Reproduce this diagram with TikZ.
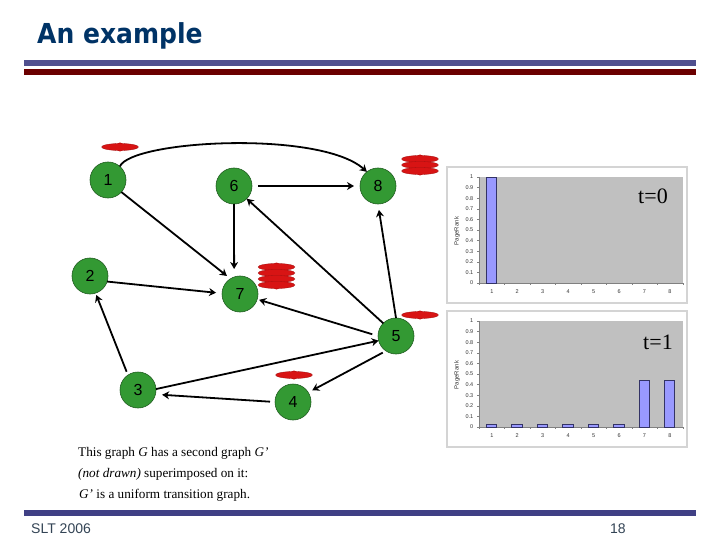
\documentclass[tikz,border=0pt]{standalone}
\usepackage{fontspec}
\setmainfont{Liberation Serif}
\setsansfont{Liberation Sans}
\newfontfamily\titlefont{DejaVu Sans}
\usetikzlibrary{arrows.meta,shapes.geometric}
\definecolor{gfill}{HTML}{339933}
\definecolor{gline}{HTML}{1F5C1F}
\definecolor{hblue}{HTML}{50508F}
\definecolor{fblue}{HTML}{404085}
\definecolor{hred}{HTML}{6B0000}
\definecolor{ttl}{HTML}{003366}
\definecolor{foot}{HTML}{334455}
\definecolor{disc}{HTML}{D81414}
\definecolor{discl}{HTML}{A01010}
\definecolor{plotbg}{HTML}{C0C0C0}
\definecolor{barf}{HTML}{9999FF}
\definecolor{barl}{HTML}{333366}
\definecolor{frameg}{HTML}{D4D4D4}
\tikzset{
  gnode/.style={circle,draw=gline,fill=gfill,line width=0.6pt,inner sep=0pt,outer sep=0pt,minimum size=36pt,font=\sffamily\fontsize{16}{16}\selectfont},
  edge/.style={draw=black,line width=1.8pt,-{Stealth[length=7pt,width=8pt]}},
  rdisc/.style={ellipse,draw=discl,fill=disc,line width=0.3pt,inner sep=0pt,outer sep=0pt,minimum width=37pt,minimum height=7pt},
  rtab/.style={ellipse,fill=disc,inner sep=0pt,outer sep=0pt,minimum width=9pt,minimum height=9pt},
  ticklabel/.style={font=\sffamily\fontsize{5.5}{6}\selectfont,text=black!80,inner sep=0pt},
  valbar/.style={draw=barl,fill=barf,line width=0.7pt},
  tlabel/.style={font=\fontsize{22}{22}\selectfont,inner sep=0pt},
  captext/.style={font=\fontsize{13.2}{14}\selectfont,anchor=base west,inner sep=0pt},
  foottext/.style={font=\sffamily\fontsize{14}{14}\selectfont,text=foot,inner sep=0pt,anchor=base west},
}
\newcommand{\redstack}[3]{%
  \foreach \yy [count=\k] in {#3}{
    \node[rtab] (#1t\k) at (#2,\yy) {};
    \node[rdisc] (#1d\k) at (#2,\yy) {};
  }%
}
\begin{document}
\begin{tikzpicture}[x=1pt,y=-1pt]
\useasboundingbox (0,0) rectangle (720,540);
\fill[white] (0,0) rectangle (720,540);
% header and footer
\node[anchor=base west,inner sep=0pt,text=ttl,xscale=0.91,font=\titlefont\bfseries\fontsize{27.5}{27.5}\selectfont] (title) at (37,44) {An example};
\fill[hblue] (24,60) rectangle (696,66);
\fill[hred] (24,69) rectangle (696,75);
\fill[fblue] (24,510) rectangle (696,516);
\node[foottext] (slt) at (31,533) {SLT 2006};
\node[foottext] (pg) at (610,533) {18};
% charts
\foreach \top/\nm in {0/a,144/b}{
  \begin{scope}[shift={(0,\top)}]
    \draw[frameg,line width=1.2pt,fill=white] (447,167) rectangle (687,303);
    \fill[plotbg] (479,177) rectangle (683,283);
    \draw[black!50,line width=0.6pt] (479,177) -- (479,283) -- (683,283);
    \foreach \v [count=\i from 0] in {1,0.9,0.8,0.7,0.6,0.5,0.4,0.3,0.2,0.1,0}{
      \node[ticklabel,anchor=east] (\nm y\i) at (473.5,177+10.6*\i) {\v};
      \draw[black!50,line width=0.4pt] (477,177+10.6*\i) -- (479,177+10.6*\i);
    }
    \foreach \c [count=\i from 0] in {1,2,3,4,5,6,7,8}{
      \node[ticklabel] (\nm x\c) at (491.8+25.45*\i,292) {\c};
      \draw[black!50,line width=0.4pt] (479+25.5*\i,283) -- (479+25.5*\i,285);
    }
    \draw[black!50,line width=0.4pt] (683,283) -- (683,285);
    \node[ticklabel,rotate=90,font=\sffamily\fontsize{6}{6}\selectfont] (\nm r) at (457,231) {PageRank};
  \end{scope}
}
\draw[valbar] (486.3,177) rectangle (496.7,283);
\foreach \i in {0,...,5}{
  \draw[valbar] (486.3+25.45*\i,424.5) rectangle (496.7+25.45*\i,427);
}
\draw[valbar] (639.2,380) rectangle (649.6,427);
\draw[valbar] (664.4,380) rectangle (674.8,427);
\node[tlabel,anchor=base] (t0) at (653,204) {t=0};
\node[tlabel,anchor=base] (t1) at (658,349) {t=1};
% graph nodes
\node[gnode] (n1) at (108,180) {1};
\node[gnode] (n2) at (90,276) {2};
\node[gnode] (n3) at (138,390) {3};
\node[gnode] (n4) at (293,402) {4};
\node[gnode] (n5) at (396,336) {5};
\node[gnode] (n6) at (234,186) {6};
\node[gnode] (n7) at (240,294) {7};
\node[gnode] (n8) at (378,186) {8};
% red stacks
\redstack{r1}{120}{147}
\redstack{r8}{420}{159,165,171}
\redstack{r7}{276.5}{267,273,279,285}
\redstack{r5}{420}{315}
\redstack{r4}{294}{375}
% edges
\draw[edge] (n1.49) .. controls (132,140) and (320,130) .. (n8.128);
\draw[edge,shorten >=4.5pt] (n1.-42) -- (n7.122);
\draw[edge,shorten <=6pt,shorten >=6pt] (n6.0) -- (n8.180);
\draw[edge,shorten >=8pt] (n6.-90) -- (n7.109);
\draw[edge] (n5.135) -- (n6.-45);
\draw[edge,shorten >=6pt] (n5.90) -- (n8.-90);
\draw[edge,shorten >=6pt] (n2.-18) -- (n7.178);
\draw[edge,shorten <=3.6pt,shorten >=2pt] (n3.124) -- (n2.-72);
\draw[edge] (n3.3) -- (n5.195);
\draw[edge,shorten <=6pt,shorten >=2pt] (n5.180) -- (n7.-17);
\draw[edge,shorten <=3.6pt,shorten >=4.5pt] (n5.236) -- (n4.32);
\draw[edge,shorten <=5pt,shorten >=6.7pt] (n4.180) -- (n3.-14);
% caption
\node[captext] (c1) at (78,456) {This graph \textit{G} has a second graph \textit{G'}};
\node[captext] (c2) at (78,477) {\textit{(not drawn)} superimposed on it:};
\node[captext] (c3) at (79,498) {\textit{G'} is a uniform transition graph.};
\end{tikzpicture}
\end{document}
